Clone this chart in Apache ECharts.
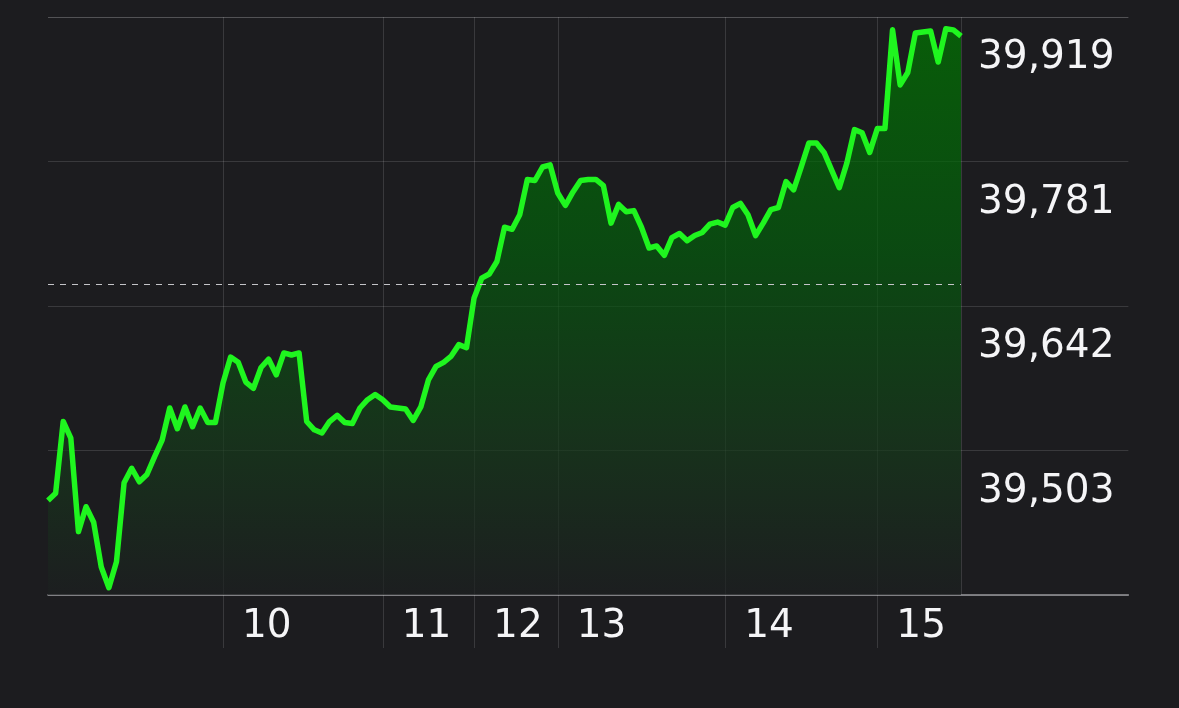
<!DOCTYPE html>
<html>
<head>
<meta charset="utf-8">
<script src="https://cdn.jsdelivr.net/npm/echarts@6/dist/echarts.min.js"></script>
<style>
html,body{margin:0;padding:0;background:#1c1c1f;}
#chart{width:1179px;height:708px;}
</style>
</head>
<body>
<div id="chart"></div>
<script>
// ---- data ----
const prices = [
  39455, 39462, 39531, 39515, 39425, 39449, 39434, 39391, 39371, 39396,
  39472, 39486, 39473, 39480, 39497, 39513, 39544, 39524, 39545, 39526,
  39544, 39530, 39530, 39568, 39593, 39588, 39569, 39563, 39583, 39591,
  39576, 39597, 39595, 39597, 39531, 39523, 39520, 39531, 39537, 39530,
  39529, 39544, 39552, 39557, 39552, 39545, 39544, 39543, 39532, 39545,
  39571, 39584, 39588, 39594, 39605, 39602, 39650, 39669, 39673, 39685,
  39718, 39716, 39730, 39764, 39763, 39776, 39778, 39751, 39739, 39752,
  39763, 39764, 39764, 39758, 39722, 39740, 39733, 39734, 39718, 39698,
  39700, 39691, 39708, 39712, 39705, 39710, 39713, 39721, 39723, 39720,
  39737, 39741, 39730, 39710, 39722, 39735, 39737, 39762, 39754, 39776,
  39799, 39799, 39790, 39773, 39756, 39780, 39812, 39809, 39790, 39813,
  39813, 39908, 39855, 39867, 39905, 39906, 39907, 39877, 39909, 39908,
  39902
];
const previousClose = 39663;
const dayStartIdx = [23, 44, 56, 67, 89, 109];
const dayLabels = ['10', '11', '12', '13', '14', '15'];
const yTickLabels = ['39,503', '39,642', '39,781', '39,919'];
const yMin = 39364;
const yInterval = 39364 / 283;   // min is 283 intervals
const slotCount = 143;           // sample slots incl. empty space right of the line

// ---- build ----
const sampleIdx = [];
for (let i = 0; i < slotCount; i++) sampleIdx.push(String(i));
const lastIdx = prices.length - 1;

const gridColor = 'rgba(255,255,255,0.13)';
const labelFont = {color: '#f5f5f7', fontSize: 39, lineHeight: 40, fontFamily: 'DejaVu Sans', fontWeight: 'normal'};
const chart = echarts.init(document.getElementById('chart'), null, {renderer: 'canvas'});
chart.setOption({
  backgroundColor: '#1c1c1f',
  animation: false,
  grid: {left: 48, top: 17, width: 1080.4, height: 578, containLabel: false},
  xAxis: {
    type: 'category',
    data: sampleIdx,
    boundaryGap: false,
    axisLine: {show: true, lineStyle: {color: '#98989c', width: 1.5}},
    axisTick: {
      show: true, inside: false, length: 53,
      interval: (i) => dayStartIdx.includes(i),
      lineStyle: {color: gridColor, width: 1}
    },
    splitLine: {
      show: true,
      interval: (i) => dayStartIdx.includes(i) || i === lastIdx,
      lineStyle: {color: gridColor, width: 1}
    },
    axisLabel: Object.assign({
      show: true,
      interval: (i) => dayStartIdx.includes(i),
      formatter: (v) => { const k = dayStartIdx.indexOf(+v); return k >= 0 ? dayLabels[k] : ''; },
      align: 'left',
      padding: [0, 0, 0, 19],
      margin: 12
    }, labelFont)
  },
  yAxis: {
    type: 'value',
    position: 'right',
    offset: -(1128.4 - 961),
    min: yMin,
    max: yMin + 4 * yInterval,
    interval: yInterval,
    axisLine: {show: false},
    axisTick: {show: false},
    splitLine: {show: true, lineStyle: {color: gridColor, width: 1}},
    axisLabel: Object.assign({
      show: true,
      showMinLabel: false,
      showMaxLabel: true,
      formatter: (v, idx) => idx >= 1 ? (yTickLabels[idx - 1] || '') : '',
      margin: 17,
      align: 'left',
      verticalAlign: 'top',
      padding: [21, 0, 0, 0]
    }, labelFont)
  },
  series: [{
    type: 'line',
    data: prices,
    symbol: 'none',
    smooth: false,
    lineStyle: {color: '#1ff51f', width: 5.5, join: 'round'},
    areaStyle: {
      color: new echarts.graphic.LinearGradient(0, 0, 0, 1, [
        {offset: 0, color: '#007800'},
        {offset: 0.4, color: '#035c0c'},
        {offset: 0.72, color: '#153c1a'},
        {offset: 1, color: '#1c1f20'}
      ])
    },
    markLine: {
      silent: true,
      symbol: ['none', 'none'],
      label: {show: false},
      lineStyle: {color: '#c4c4c8', width: 1, type: [6, 6]},
      data: [[{coord: [0, previousClose]}, {coord: [lastIdx, previousClose]}]]
    }
  }]
});
</script>
</body>
</html>
